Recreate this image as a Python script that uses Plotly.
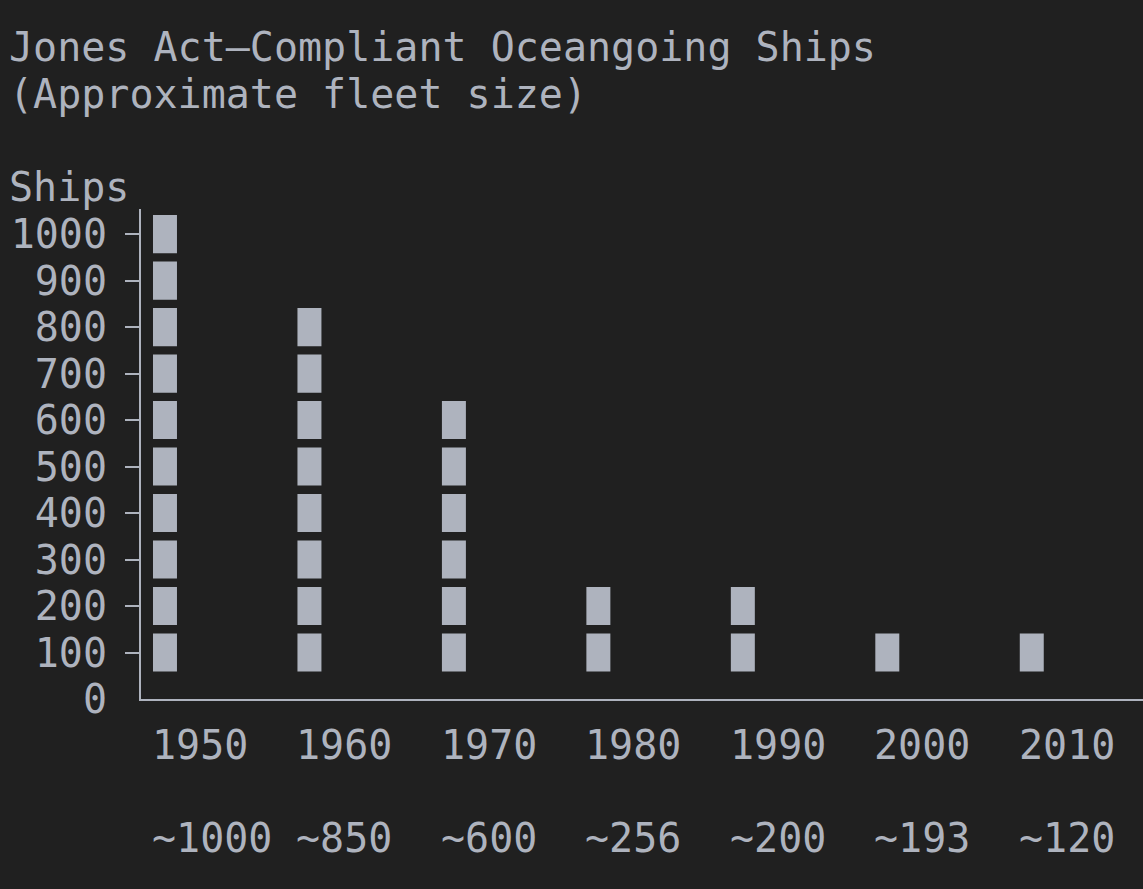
import plotly.graph_objects as go

years = [1950, 1960, 1970, 1980, 1990, 2000, 2010]
approx_labels = ["~1000", "~850", "~600", "~256", "~200", "~193", "~120"]
blocks = [10, 8, 6, 2, 2, 1, 1]          # number of block characters drawn per column
y_ticks = [0, 100, 200, 300, 400, 500, 600, 700, 800, 900, 1000]
title_lines = ["Jones Act\u2013Compliant Oceangoing Ships", "(Approximate fleet size)"]
y_label = "Ships"

BG = "#202020"
FG = "#aeb3be"
FONT = "DejaVu Sans Mono"
FS = 40

block_step = 100
block_h = 82
block_w = 1.66

fig = go.Figure()

max_b = max(blocks)
for k in range(1, max_b + 1):
    xs = [yr for yr, b in zip(years, blocks) if b >= k]
    if not xs:
        continue
    fig.add_trace(go.Bar(
        x=xs, y=[block_h] * len(xs), base=[k * block_step - block_h / 2] * len(xs),
        width=block_w, marker=dict(color=FG, line=dict(width=0)),
        hoverinfo="skip", showlegend=False,
    ))

# invisible trace for label-only overlay axis
fig.add_trace(go.Scatter(x=[years[0]], y=[0], yaxis="y2", mode="markers",
                         marker=dict(opacity=0), hoverinfo="skip", showlegend=False))

x_lo, x_hi = 1948.34, 2017.7
y_lo, y_hi = 0, 1054


def row(v):
    # convert a terminal row (in value units) to paper coordinates
    return (v - y_lo) / (y_hi - y_lo)


def xpaper(v):
    return (v - x_lo) / (x_hi - x_lo)


txt_font = dict(family=FONT, size=FS, color=FG)
annotations = []
for yr, lab in zip(years, approx_labels):
    annotations.append(dict(x=xpaper(yr - block_w / 2), y=row(-100), xref="paper", yref="paper",
                            text=str(yr), showarrow=False, xanchor="left", yanchor="middle",
                            xshift=-3, font=txt_font))
    annotations.append(dict(x=xpaper(yr - block_w / 2), y=row(-300), xref="paper", yref="paper",
                            text=lab, showarrow=False, xanchor="left", yanchor="middle",
                            xshift=-3, font=txt_font))
for i, line in enumerate(title_lines):
    annotations.append(dict(x=-0.1307, y=row(1400 - 100 * i), xref="paper", yref="paper",
                            text=line, showarrow=False, xanchor="left", yanchor="middle",
                            xshift=-3, yshift=1, font=txt_font))
annotations.append(dict(x=-0.1307, y=row(1100), xref="paper", yref="paper", text=y_label,
                        showarrow=False, xanchor="left", yanchor="middle",
                        xshift=-3, yshift=1, font=txt_font))

fig.update_layout(
    width=1143, height=889,
    margin=dict(l=141, r=0, t=209, b=190, pad=0),
    paper_bgcolor=BG, plot_bgcolor=BG,
    barmode="overlay",
    showlegend=False,
    xaxis=dict(range=[x_lo, x_hi], showgrid=False, zeroline=False, showline=True,
               linecolor=FG, linewidth=2, ticks="", showticklabels=False, fixedrange=True),
    yaxis=dict(range=[y_lo, y_hi], showgrid=False, zeroline=False, showline=True,
               linecolor=FG, linewidth=2, tickvals=y_ticks[1:], ticks="outside",
               ticklen=14, tickwidth=2, tickcolor=FG, showticklabels=False),
    yaxis2=dict(range=[y_lo, y_hi], overlaying="y", side="left", showgrid=False,
                zeroline=False, showline=False, tickvals=y_ticks,
                ticktext=[str(v) for v in y_ticks], ticks="",
                tickfont=dict(family=FONT, size=FS, color=FG), ticklabelstandoff=33),
    annotations=annotations,
)

fig.write_html("out.html", config={"displayModeBar": False},
               post_script="document.body.style.margin='0';document.body.style.background='#202020';")
